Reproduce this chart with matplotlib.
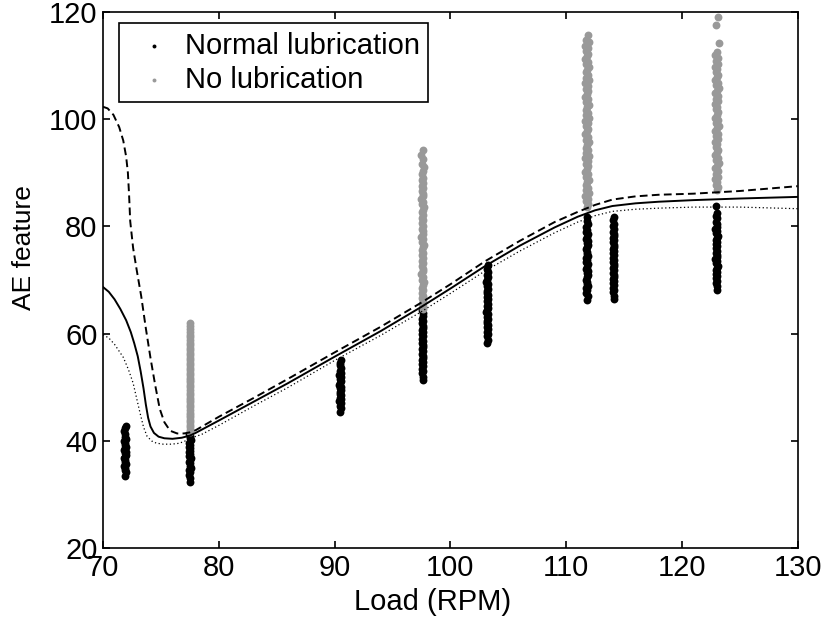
import matplotlib
matplotlib.use("Agg")
import matplotlib.pyplot as plt
import numpy as np

plt.rcParams['font.family'] = ['Liberation Sans', 'DejaVu Sans']

# load (RPM) at which each cluster was measured
normal_load = [71.9, 77.5, 90.5, 97.6, 103.2, 111.8, 114.1, 123.0]
nolub_load = [77.5, 97.6, 111.8, 123.0]

# AE feature values, normal lubrication, one list per load
normal_ae = [
    [33.4, 34.2, 34.6, 35.0, 35.4, 35.7, 36.1, 36.4, 36.8, 37.1, 37.4, 37.7, 38.0,
     38.3, 38.6, 38.9, 39.3, 39.6, 40.0, 40.4, 40.8, 41.3, 41.8, 42.4, 42.8],
    [32.4, 33.1, 33.7, 34.2, 34.6, 35.0, 35.4, 35.8, 36.1, 36.5, 36.8, 37.2, 37.5,
     37.9, 38.2, 38.6, 38.9, 39.3, 39.7, 40.1, 40.5, 40.9, 41.3],
    [45.4, 46.1, 46.6, 47.0, 47.4, 47.8, 48.1, 48.5, 48.8, 49.1, 49.5, 49.8, 50.1,
     50.5, 50.8, 51.2, 51.5, 51.9, 52.3, 52.7, 53.1, 53.6, 54.1, 54.6, 55.1],
    [51.3, 52.0, 52.6, 53.1, 53.5, 53.9, 54.3, 54.7, 55.1, 55.5, 55.9, 56.3, 56.7,
     57.1, 57.5, 57.9, 58.3, 58.7, 59.1, 59.5, 59.9, 60.3, 60.7, 61.1, 61.5, 61.9,
     62.3, 62.8, 63.3, 63.9, 64.4],
    [58.2, 58.9, 59.5, 60.0, 60.4, 60.8, 61.2, 61.6, 62.0, 62.4, 62.8, 63.2, 63.6,
     64.0, 64.4, 64.8, 65.2, 65.6, 66.0, 66.4, 66.8, 67.2, 67.6, 68.0, 68.4, 68.8,
     69.2, 69.6, 70.0, 70.5, 71.0, 71.5, 72.1, 72.8],
    [66.3, 67.0, 67.6, 68.1, 68.5, 68.9, 69.3, 69.7, 70.1, 70.5, 70.9, 71.3, 71.7,
     72.1, 72.5, 72.9, 73.3, 73.7, 74.1, 74.5, 74.9, 75.3, 75.7, 76.1, 76.5, 76.9,
     77.3, 77.7, 78.1, 78.5, 78.9, 79.4, 79.9, 80.4, 81.0, 81.8],
    [66.4, 67.1, 67.7, 68.2, 68.6, 69.0, 69.4, 69.8, 70.2, 70.6, 71.0, 71.4, 71.8,
     72.2, 72.6, 73.0, 73.4, 73.8, 74.2, 74.6, 75.0, 75.4, 75.8, 76.2, 76.6, 77.0,
     77.4, 77.8, 78.2, 78.6, 79.0, 79.5, 80.0, 80.5, 81.1, 81.8],
    [68.1, 68.8, 69.4, 69.9, 70.3, 70.7, 71.1, 71.5, 71.9, 72.3, 72.7, 73.1, 73.5,
     73.9, 74.3, 74.7, 75.1, 75.5, 75.9, 76.3, 76.7, 77.1, 77.5, 77.9, 78.3, 78.7,
     79.1, 79.5, 79.9, 80.4, 80.9, 81.5, 82.0, 82.5, 83.8],
]

# AE feature values, no lubrication
nolub_ae = [
    [41.6, 42.1, 42.6, 43.0, 43.5, 44.0, 44.4, 44.9, 45.3, 45.8, 46.3, 46.7, 47.2,
     47.7, 48.1, 48.6, 49.0, 49.5, 50.0, 50.4, 50.9, 51.3, 51.8, 52.3, 52.7, 53.2,
     53.6, 54.1, 54.6, 55.0, 55.5, 56.0, 56.4, 56.9, 57.4, 57.8, 58.3, 58.8, 59.3,
     59.8, 60.3, 60.9, 61.5, 62.0],
    [64.6, 65.1, 65.6, 66.1, 66.6, 67.1, 67.6, 68.1, 68.6, 69.1, 69.6, 70.1, 70.6,
     71.1, 71.6, 72.1, 72.6, 73.1, 73.6, 74.1, 74.6, 75.1, 75.6, 76.1, 76.6, 77.1,
     77.6, 78.1, 78.6, 79.1, 79.6, 80.1, 80.6, 81.1, 81.6, 82.1, 82.6, 83.1, 83.6,
     84.1, 84.6, 85.1, 85.6, 86.1, 86.6, 87.1, 87.6, 88.1, 88.6, 89.1, 89.7, 90.3,
     91.0, 91.6, 92.6, 93.3, 94.3],
    [83.7, 84.2, 84.7, 85.2, 85.7, 86.2, 86.7, 87.2, 87.7, 88.2, 88.7, 89.2, 89.7,
     90.2, 90.7, 91.2, 91.7, 92.2, 92.7, 93.2, 93.7, 94.2, 94.7, 95.2, 95.7, 96.2,
     96.7, 97.2, 97.7, 98.2, 98.7, 99.2, 99.7, 100.2, 100.7, 101.2, 101.7, 102.2,
     102.7, 103.2, 103.7, 104.2, 104.7, 105.2, 105.7, 106.2, 106.7, 107.2, 107.7,
     108.2, 108.7, 109.2, 109.7, 110.2, 110.7, 111.2, 111.7, 112.2, 112.7, 113.2,
     113.7, 114.3, 114.8, 115.7],
    [86.8, 87.3, 87.8, 88.3, 88.8, 89.3, 89.8, 90.3, 90.8, 91.3, 91.8, 92.3, 92.8,
     93.3, 93.8, 94.3, 94.8, 95.3, 95.8, 96.3, 96.8, 97.3, 97.8, 98.3, 98.8, 99.3,
     99.8, 100.3, 100.8, 101.3, 101.8, 102.3, 102.8, 103.3, 103.8, 104.3, 104.8,
     105.3, 105.8, 106.3, 106.8, 107.3, 107.8, 108.3, 108.8, 109.3, 109.8, 110.3,
     110.8, 111.4, 112.0, 112.5, 114.2, 117.6, 119.1],
]

# fitted curves
solid_x = [70, 70.5, 71, 71.5, 72, 72.4, 72.7, 73.0, 73.25, 73.5, 73.7, 73.9, 74.1,
           74.4, 74.8, 75.3, 76, 76.8, 77.5, 78, 80, 83, 86, 90, 94, 97.5, 100, 103,
           106, 109, 111, 112.5, 114, 116, 118, 121, 125, 130]
solid_y = [68.7, 67.8, 66.4, 64.6, 62.5, 60.3, 58.2, 55.8, 53.0, 49.8, 46.8, 44.3,
           42.7, 41.5, 40.8, 40.5, 40.4, 40.6, 41.0, 41.5, 43.8, 47.3, 50.8, 55.7,
           60.5, 65.0, 68.4, 72.6, 76.4, 79.8, 81.8, 83.0, 83.8, 84.3, 84.6, 84.9,
           85.2, 85.5]
dash_x = [70, 70.4, 70.9, 71.4, 71.75, 72.0, 72.15, 72.25, 72.35, 72.6, 72.9, 73.3,
          73.7, 74.1, 74.5, 74.9, 75.3, 75.8, 76.4, 77.0, 77.5, 78, 80, 83, 86, 90,
          94, 97.5, 100, 103, 106, 109, 111, 112.5, 114, 116, 118, 121, 125, 130]
dash_y = [102.3, 102.0, 100.8, 98.5, 96.0, 93.0, 90.0, 86.0, 81.0, 76.0, 72.0, 67.0,
          61.0, 55.5, 50.5, 46.0, 43.5, 41.9, 41.4, 41.4, 41.6, 42.0, 44.5, 48.0,
          51.6, 56.5, 61.3, 65.8, 69.2, 73.5, 77.3, 80.8, 82.7, 84.0, 85.0, 85.6,
          85.9, 86.1, 86.6, 87.5]
dot_x = [70, 70.5, 71, 71.75, 72.2, 72.6, 72.9, 73.2, 73.5, 73.8, 74.2, 74.6, 75.2,
         75.8, 76.4, 76.9, 77.8, 78.5, 80, 83, 86, 90, 94, 97.5, 100, 103, 106, 109,
         111, 112.5, 114, 116, 118, 121, 125, 130]
dot_y = [59.8, 59.2, 58.0, 55.6, 53.3, 50.8, 48.0, 45.2, 42.6, 40.9, 40.0, 39.6,
         39.4, 39.4, 39.5, 39.8, 40.7, 41.2, 42.9, 46.5, 50.0, 55.0, 59.7, 64.1,
         67.5, 71.7, 75.4, 78.8, 80.8, 82.0, 82.8, 83.2, 83.4, 83.6, 83.6, 83.3]

# spread of the dots across each column (fraction of half width)
jitter = [0.0, 0.55, -0.45, 0.25, -0.8, 0.7, -0.2, 0.4, -0.6, 0.1, 0.85, -0.35, 0.6, -0.9]
normal_hw = [0.09, 0.09, 0.09, 0.09, 0.09, 0.09, 0.09, 0.11]
nolub_hw = [0.03, 0.1, 0.2, 0.2]


def spread(loads, values, halfwidths):
    xs, ys = [], []
    for x0, vals, hw in zip(loads, values, halfwidths):
        for i, v in enumerate(vals):
            xs.append(x0 + hw * jitter[i % len(jitter)])
            ys.append(v)
    return np.array(xs), np.array(ys)


nx, ny = spread(normal_load, normal_ae, normal_hw)
gx, gy = spread(nolub_load, nolub_ae, nolub_hw)

fig = plt.figure(figsize=(8.24, 6.23), dpi=100)
ax = fig.add_axes((0.125, 0.120, 0.843, 0.861))

ax.scatter(nx, ny, s=32, c='black', linewidths=0, label='Normal lubrication', zorder=2)
ax.scatter(gx, gy, s=32, c='#999999', linewidths=0, label='No lubrication', zorder=2)

ax.plot(solid_x, solid_y, color='black', lw=1.4, zorder=3)
ax.plot(dash_x, dash_y, color='black', lw=1.4, dashes=(4, 2.2), zorder=3)
ax.plot(dot_x, dot_y, color='black', lw=0.9, dashes=(1, 2), zorder=3)

ax.set_xlim(70, 130)
ax.set_ylim(20, 120)
ax.set_xticks(range(70, 131, 10))
ax.set_yticks(range(20, 121, 20))
ax.tick_params(direction='in', length=5, width=1.2, labelsize=21, pad=4,
               top=True, right=True)
for sp in ax.spines.values():
    sp.set_linewidth(1.2)

ax.set_xlabel('Load (RPM)', fontsize=21)
ax.xaxis.set_label_coords(0.475, -0.075)
ax.set_ylabel('AE feature', fontsize=19)
ax.yaxis.set_label_coords(-0.097, 0.56)

leg = ax.legend(loc='upper left', bbox_to_anchor=(0.023, 0.979), borderaxespad=0,
                fontsize=21, frameon=True, fancybox=False, framealpha=1,
                borderpad=0.3, labelspacing=0.2, handlelength=1.8,
                handletextpad=0.15, scatterpoints=1, markerscale=0.5)
leg.get_frame().set_edgecolor('black')
leg.get_frame().set_linewidth(1.2)

fig.savefig('out.png', dpi=100)
